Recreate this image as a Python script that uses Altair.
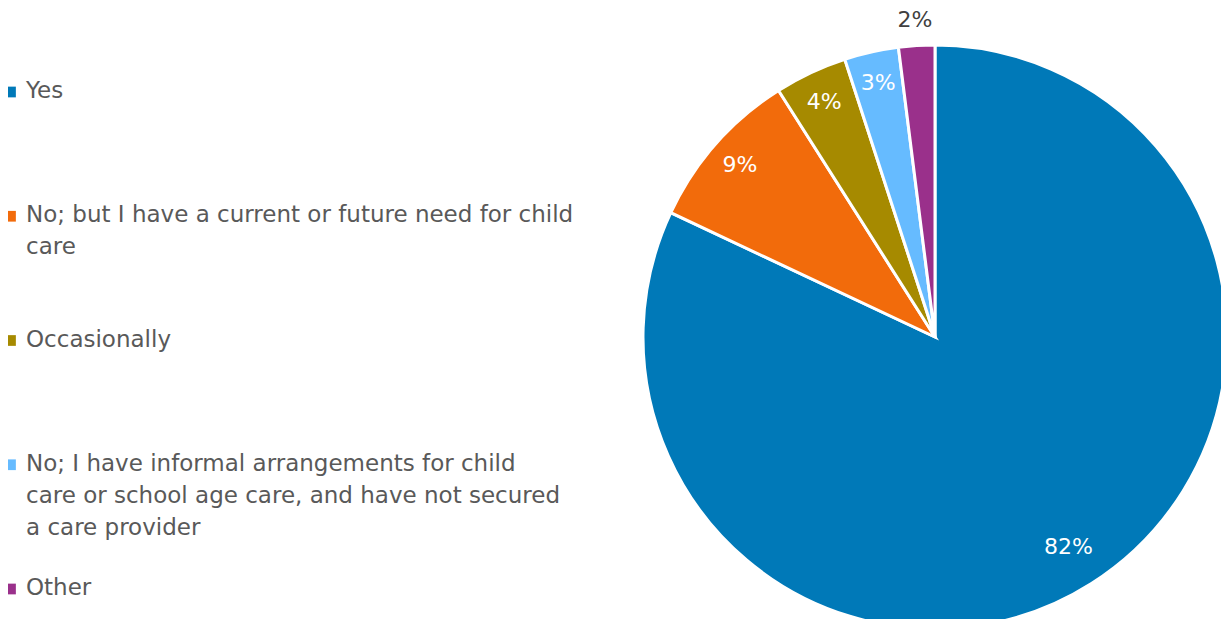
import math
import altair as alt
import pandas as pd

categories = [
    "Yes",
    "No; but I have a current or future need for child care",
    "Occasionally",
    "No; I have informal arrangements for child care or school age care, and have not secured a care provider",
    "Other",
]
legend_labels = [
    "Yes",
    "No; but I have a current or future need for child\ncare",
    "Occasionally",
    "No; I have informal arrangements for child\ncare or school age care, and have not secured\na care provider",
    "Other",
]
values = [82, 9, 4, 3, 2]
colors = ["#0079B8", "#F26B0B", "#A68A00", "#66BBFF", "#9A308B"]

df = pd.DataFrame({
    "category": categories,
    "legend": legend_labels,
    "value": values,
    "idx": list(range(len(categories))),
})

W, H = 1213, 611
CX, CY, R = 927, 329, 292
FONT = "DejaVu Sans"
TOTAL = sum(values)

color_scale = alt.Scale(domain=categories, range=colors)

base = alt.Chart(df)

pie = base.mark_arc(stroke="white", strokeWidth=3, outerRadius=R).encode(
    theta=alt.Theta("value:Q", stack=True),
    color=alt.Color("category:N", scale=color_scale, legend=None),
    order=alt.Order("idx:Q"),
    x=alt.value(CX),
    y=alt.value(CY),
)

labels = base.transform_window(
    cum="sum(value)", sort=[alt.SortField("idx")], frame=[None, 0]
).transform_calculate(
    mid="datum.cum - datum.value / 2",
    r="datum.value < 3 ? 318 : (datum.value > 50 ? 249 : 260)",
    label="datum.value + '%'",
).mark_text(font=FONT, fontSize=22, baseline="middle", align="center").encode(
    theta=alt.Theta("mid:Q", stack=None,
                    scale=alt.Scale(domain=[0, TOTAL], range=[0, 2 * math.pi])),
    radius=alt.Radius("r:Q", scale=None),
    text="label:N",
    color=alt.condition("datum.value >= 3", alt.value("white"), alt.value("#404040")),
    x=alt.value(CX),
    y=alt.value(CY),
)

yscale = alt.Scale(domain=[0, 4], range=[90, 587])

leg_sq = base.mark_square(size=115, opacity=1).encode(
    x=alt.value(2.5),
    y=alt.Y("idx:Q", scale=yscale, axis=None),
    yOffset=alt.value(-6),
    color=alt.Color("category:N", scale=color_scale, legend=None),
)

leg_txt = base.mark_text(
    font=FONT, fontSize=23, align="left", baseline="alphabetic",
    lineBreak="\n", lineHeight=32, color="#595959",
).encode(
    x=alt.value(18),
    y=alt.Y("idx:Q", scale=yscale, axis=None),
    text="legend:N",
)

chart = alt.layer(pie, labels, leg_sq, leg_txt).properties(
    width=W, height=H, padding=0, autosize=alt.AutoSizeParams(type="none")
).configure(background="white").configure_view(stroke=None)

chart.save("out.html", embed_options={"renderer": "svg", "actions": False})
